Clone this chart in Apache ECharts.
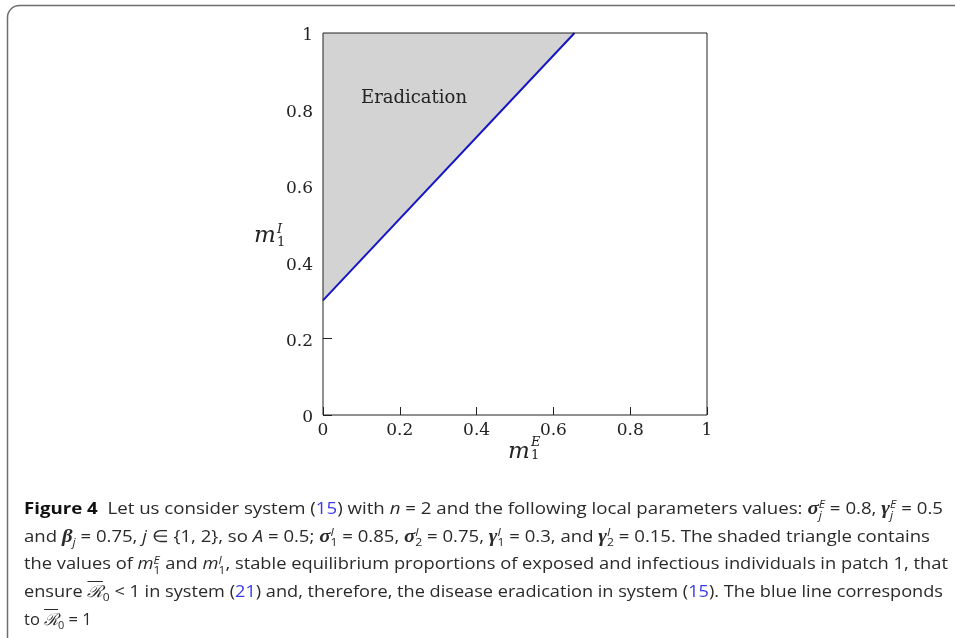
<!DOCTYPE html>
<html>
<head>
<meta charset="utf-8">
<script src="https://cdn.jsdelivr.net/npm/echarts@6/dist/echarts.min.js"></script>
<style>
  body { margin: 0; background: #fff; overflow: hidden; }
  #main { position: absolute; left: 0; top: 0; width: 955px; height: 638px; }
  #cap {
    position: absolute; left: 24px; top: 494px;
    font-family: "Open Sans", "Noto Sans", sans-serif; font-size: 16.5px;
    line-height: 27.7px; color: #2a2a2a;
  }
  #cap .ln { white-space: nowrap; transform-origin: 0 0; width: max-content; height: 27.7px; }
  #cap b { font-weight: 700; color: #111; }
  #cap a { color: #3b3bec; text-decoration: none; }
  #cap .g { font-family: "Liberation Serif", serif; font-weight: bold; font-style: italic; font-size: 1.12em; line-height: 0; }
  #cap .ss {
    display: inline-block; vertical-align: -0.42em; font-size: 0.66em; line-height: 0.95;
    font-style: italic; margin-top: -1em; margin-bottom: -1em;
  }
  #cap .ss span { display: block; }
  #cap .sb { font-size: 0.66em; vertical-align: -0.35em; line-height: 0; }
  #cap .rb { font-family: "DejaVu Serif", serif; font-style: italic; text-decoration: overline; line-height: 0; }
</style>
</head>
<body>
<div id="main"></div>
<div id="cap">
  <div class="ln" data-w="919"><b>Figure 4</b>&nbsp; Let us consider system (<a>15</a>) with <i>n</i> = 2 and the following local parameters values: <span class="g">σ</span><span class="ss"><span>E</span><span>j</span></span> = 0.8, <span class="g">γ</span><span class="ss"><span>E</span><span>j</span></span> = 0.5</div>
  <div class="ln" data-w="906">and <span class="g">β</span><span class="sb"><i>j</i></span> = 0.75, <i>j</i> ∈ {1, 2}, so <i>A</i> = 0.5; <span class="g">σ</span><span class="ss"><span>I</span><span style="font-style:normal">1</span></span> = 0.85, <span class="g">σ</span><span class="ss"><span>I</span><span style="font-style:normal">2</span></span> = 0.75, <span class="g">γ</span><span class="ss"><span>I</span><span style="font-style:normal">1</span></span> = 0.3, and <span class="g">γ</span><span class="ss"><span>I</span><span style="font-style:normal">2</span></span> = 0.15. The shaded triangle contains</div>
  <div class="ln" data-w="924">the values of <i>m</i><span class="ss"><span>E</span><span style="font-style:normal">1</span></span> and <i>m</i><span class="ss"><span>I</span><span style="font-style:normal">1</span></span>, stable equilibrium proportions of exposed and infectious individuals in patch 1, that</div>
  <div class="ln" data-w="919">ensure <span class="rb">ℛ</span><span class="sb">0</span> &lt; 1 in system (<a>21</a>) and, therefore, the disease eradication in system (<a>15</a>). The blue line corresponds</div>
  <div class="ln">to <span class="rb">ℛ</span><span class="sb">0</span> = 1</div>
</div>
<script>
// values
const lineX = [0, 0.655]
const lineY = [0.3, 1]
// shaded triangle (corners)
const shadeX = [0, 0.655, 0]
const shadeY = [0.3, 1, 1]
const regionLabel = 'Eradication'

const serif = '"DejaVu Serif", serif'

var myChart = echarts.init(document.getElementById('main'))

const option = {
  animation: false,
  grid: {
    left: 323,
    right: 248,
    top: 33,
    bottom: 223,
    show: true,
    z: 10,
    backgroundColor: 'transparent',
    borderColor: '#222',
    borderWidth: 1
  },
  xAxis: {
    type: 'value',
    min: 0,
    max: 1,
    interval: 0.2,
    axisLine: { show: false },
    axisTick: { inside: true, length: 8, lineStyle: { color: '#222' } },
    splitLine: { show: false },
    axisLabel: {
      margin: 7,
      color: '#222',
      fontFamily: serif,
      fontSize: 17,
      formatter: (v) => String(v)
    }
  },
  yAxis: {
    type: 'value',
    min: 0,
    max: 1,
    interval: 0.2,
    axisLine: { show: false },
    axisTick: { inside: true, length: 9, lineStyle: { color: '#222' } },
    splitLine: { show: false },
    axisLabel: {
      margin: 10,
      color: '#222',
      fontFamily: serif,
      fontSize: 17,
      verticalAlign: 'top',
      lineHeight: 6,
      formatter: (v) => String(v)
    }
  },
  graphic: [
    {
      type: 'rect',
      shape: { x: 7.5, y: 5.5, width: 1200, height: 900, r: 12 },
      style: { fill: 'none', stroke: '#6e6e6e', lineWidth: 1.5 },
      silent: true
    },
    {
      type: 'text', left: 361, top: 89, z: 20,
      style: { text: regionLabel, font: '18px ' + serif, fill: '#222' }
    },
    // y axis name m_1^I
    { type: 'text', x: 254, y: 236, style: { text: 'm', font: 'italic 23px ' + serif, fill: '#222', verticalAlign: 'middle' } },
    { type: 'text', x: 277, y: 230, style: { text: 'I', font: 'italic 13px ' + serif, fill: '#222', verticalAlign: 'middle' } },
    { type: 'text', x: 277, y: 243, style: { text: '1', font: '13px ' + serif, fill: '#222', verticalAlign: 'middle' } },
    // x axis name m_1^E
    { type: 'text', x: 508, y: 452, style: { text: 'm', font: 'italic 23px ' + serif, fill: '#222', verticalAlign: 'middle' } },
    { type: 'text', x: 531, y: 443, style: { text: 'E', font: 'italic 13px ' + serif, fill: '#222', verticalAlign: 'middle' } },
    { type: 'text', x: 531, y: 456, style: { text: '1', font: '13px ' + serif, fill: '#222', verticalAlign: 'middle' } }
  ],
  series: [
    {
      type: 'custom',
      z: 2,
      data: [[0, 0]],
      renderItem: function (params, api) {
        const pts = shadeX.map((x, i) => api.coord([x, shadeY[i]]))
        return {
          type: 'polygon',
          shape: { points: pts },
          style: { fill: '#d3d3d3' }
        }
      }
    },
    {
      type: 'line',
      z: 3,
      showSymbol: false,
      data: lineX.map((x, i) => [x, lineY[i]]),
      lineStyle: { color: '#1414c8', width: 2 }
    }
  ]
}

myChart.setOption(option)

// squeeze caption lines to the widths of the original
document.querySelectorAll('#cap .ln[data-w]').forEach((el) => {
  const w = el.getBoundingClientRect().width
  const s = +el.dataset.w / w
  el.style.transform = 'scaleX(' + s.toFixed(4) + ')'
})
</script>
</body>
</html>
